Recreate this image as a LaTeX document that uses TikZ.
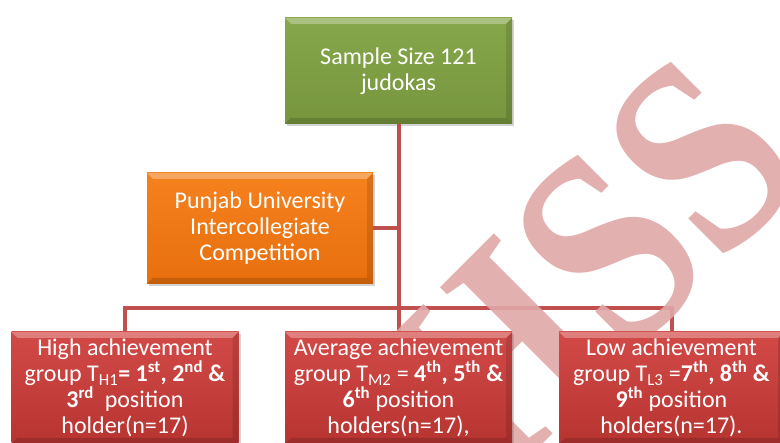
\documentclass[tikz,border=0pt]{standalone}
\usepackage{fontspec}
\usepackage{graphicx}
\setmainfont{Carlito}
\newfontfamily\markfont{Liberation Serif}
\usetikzlibrary{shadows}

\definecolor{linkred}{HTML}{C0504D}
\definecolor{greentop}{HTML}{87A74B}
\definecolor{greenbot}{HTML}{76953D}
\definecolor{orangetop}{HTML}{F5811D}
\definecolor{orangebot}{HTML}{E86F0E}
\definecolor{redtop}{HTML}{D24A48}
\definecolor{redbot}{HTML}{B73431}
\definecolor{markpink}{HTML}{E0A7A7}

\tikzset{
  box/.style={rectangle, inner sep=0pt, align=center, text=white,
    font=\fontsize{24}{26}\selectfont,
    drop shadow={opacity=0.35, shadow xshift=2pt, shadow yshift=-2pt},
    path picture={
      \fill[white, opacity=0.3] (path picture bounding box.north west) -- (path picture bounding box.north east)
        -- ([xshift=-6pt,yshift=-6pt]path picture bounding box.north east) -- ([xshift=6pt,yshift=-6pt]path picture bounding box.north west) -- cycle;
      \fill[black, opacity=0.15] (path picture bounding box.south west) -- (path picture bounding box.south east)
        -- ([xshift=-6pt,yshift=6pt]path picture bounding box.south east) -- ([xshift=6pt,yshift=6pt]path picture bounding box.south west) -- cycle;
      \fill[black, opacity=0.12] (path picture bounding box.north east) -- (path picture bounding box.south east)
        -- ([xshift=-6pt,yshift=6pt]path picture bounding box.south east) -- ([xshift=-6pt,yshift=-6pt]path picture bounding box.north east) -- cycle;
    }},
  greenbox/.style={box, top color=greentop, bottom color=greenbot},
  orangebox/.style={box, top color=orangetop, bottom color=orangebot},
  redbox/.style={box, top color=redtop, bottom color=redbot, minimum width=227pt, minimum height=112pt},
  link/.style={draw=linkred, line width=4pt}
}

\begin{document}
\begin{tikzpicture}[x=1pt,y=-1pt]
\useasboundingbox (0,0) rectangle (780,443);
\clip (0,0) rectangle (780,443);

\node[greenbox, minimum width=227pt, minimum height=106pt] (sample) at (398.5,71) {Sample Size 121\\judokas};
\node[orangebox, minimum width=226pt, minimum height=111pt] (puc) at (260,228.5) {Punjab University\\Intercollegiate\\Competition};

\coordinate (high) at (125,388);
\coordinate (avg) at (398.5,388);
\coordinate (low) at (671.5,388);
\coordinate (bus) at (398.5,308);

% connectors first, boxes on top
\path (high) ++(0,-56) coordinate (hightop);
\path (avg) ++(0,-56) coordinate (avgtop);
\path (low) ++(0,-56) coordinate (lowtop);
\draw[link] (sample.south) -- (avgtop);
\draw[link] (puc.east) -- (puc.east -| sample.south);
\draw[link] (hightop) |- (bus) -| (lowtop);

% watermark
\node[rotate=45, text=markpink, opacity=0.9, font=\markfont\bfseries\fontsize{215}{215}\selectfont] (mark) at (590,268) {\scalebox{1.1}[1.3]{HSS}};

\node[redbox] (hi) at (high) {High achievement\\group T\textsubscript{H1}\textbf{= 1\textsuperscript{st}, 2\textsuperscript{nd} \&}\\\textbf{3\textsuperscript{rd}}\ \ position\\holder(n=17)};
\node[redbox] (av) at (avg) {Average achievement\\group T\textsubscript{M2} = \textbf{4\textsuperscript{th}, 5\textsuperscript{th} \&}\\\textbf{6\textsuperscript{th}} position\\holders(n=17),};
\node[redbox, minimum width=225pt] (lo) at (low) {Low achievement\\group T\textsubscript{L3} =\textbf{7\textsuperscript{th}, 8\textsuperscript{th} \&}\\\textbf{9\textsuperscript{th}} position\\holders(n=17).};

\end{tikzpicture}
\end{document}
